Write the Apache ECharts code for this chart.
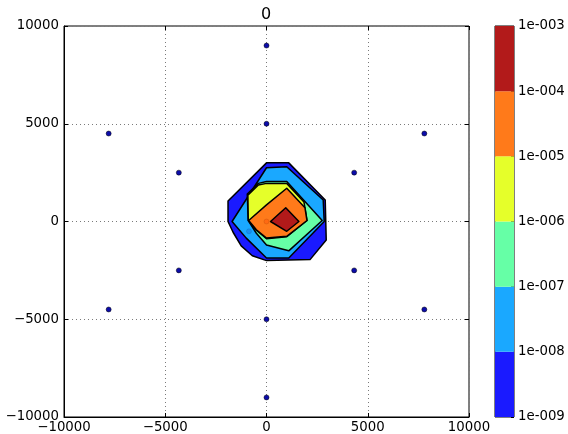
<!DOCTYPE html>
<html><head><meta charset="utf-8">
<script src="https://cdn.jsdelivr.net/npm/echarts@6/dist/echarts.min.js"></script>
<style>html,body{margin:0;padding:0;background:#fff}#c{width:568px;height:434px}</style>
</head><body><div id="c"></div>
<script>
const chartTitle = '0';
const axisMin = -10000, axisMax = 10000, axisStep = 5000;
const levelExponents = [-9, -8, -7, -6, -5, -4, -3];
const levelLabels = ['1e-009', '1e-008', '1e-007', '1e-006', '1e-005', '1e-004', '1e-003'];
const levelColors = ['#1a1aff', '#1aa8ff', '#66ffa6', '#e5ff2a', '#ff7a1a', '#b21a1a'];

// filled contour regions (data units), value >= level
const region1e9 = [[-1900,1050],[0,3000],[1100,3000],[2900,1100],[2950,-950],[2150,-1950],[0,-2000],[-700,-1750],[-1250,-1250],[-1650,-550],[-1900,0]];
const region1e8 = [[-1700,0],[0,2750],[1000,2800],[2800,1100],[2850,0],[1100,-1870],[0,-1870],[-1000,-850]];
const region1e7 = [[-900,50],[-950,1400],[-400,1950],[0,2050],[1000,2050],[2750,50],[1100,-1500],[0,-1200],[-500,-600]];
const region1e6 = [[-900,50],[-920,1350],[-400,1870],[0,1950],[1000,1950],[1850,1000],[2000,50],[1000,-780],[0,-880],[-500,-450]];
const region1e5 = [[-880,50],[0,850],[1000,1700],[1900,700],[2000,50],[1000,-760],[0,-850],[-500,-420]];
const region1e4 = [[200,0],[950,700],[1600,0],[1000,-500]];
const regions = [region1e9, region1e8, region1e7, region1e6, region1e5, region1e4];

// sensor points
const stationX = [0, 0, -7794, 7794, -7794, 7794, -4330, 4330, -4330, 4330, 0, 0];
const stationY = [9000, 5000, 4500, 4500, -4500, -4500, 2500, 2500, -2500, -2500, -5000, -9000];
const innerX = [0, -866];
const innerY = [0, -500];
const innerColors = ['#ff6a12', '#1890f0'];

const font = 'DejaVu Sans';
const fmt = v => String(v).replace('-', '\u2212');

const chart = echarts.init(document.getElementById('c'), null, {renderer: 'canvas'});
chart.setOption({
  animation: false,
  backgroundColor: '#fff',
  title: {text: chartTitle, left: 256, top: 2, textStyle: {fontFamily: font, fontSize: 16, fontWeight: 'normal', color: '#000'}},
  grid: [
    {left: 64, right: 99, top: 26, bottom: 17, show: true, borderColor: '#000', borderWidth: 1, backgroundColor: 'transparent'},
    {left: 495, width: 19, top: 26, bottom: 17, show: true, borderColor: '#000', borderWidth: 1, backgroundColor: 'transparent'}
  ],
  xAxis: [
    {type: 'value', gridIndex: 0, min: axisMin, max: axisMax, interval: axisStep,
     axisLine: {show: true, onZero: false, lineStyle: {color: '#000'}},
     axisTick: {show: true, inside: true, length: 4, lineStyle: {color: '#000'}},
     axisLabel: {margin: 4, fontFamily: font, fontSize: 13.3, color: '#000', formatter: fmt},
     splitLine: {show: true, lineStyle: {color: '#7a7a7a', type: [1, 3], width: 1}}},
    {type: 'value', gridIndex: 0, position: 'top', min: axisMin, max: axisMax, interval: axisStep,
     axisLine: {show: false, onZero: false}, axisTick: {show: true, inside: true, length: 4, lineStyle: {color: '#000'}},
     axisLabel: {show: false}, splitLine: {show: false}},
    {type: 'value', gridIndex: 1, min: 0, max: 1, show: false}
  ],
  yAxis: [
    {type: 'value', gridIndex: 0, min: axisMin, max: axisMax, interval: axisStep,
     axisLine: {show: true, onZero: false, lineStyle: {color: '#000'}},
     axisTick: {show: true, inside: true, length: 4, lineStyle: {color: '#000'}},
     axisLabel: {margin: 5, fontFamily: font, fontSize: 13.3, color: '#000', formatter: fmt},
     splitLine: {show: true, lineStyle: {color: '#7a7a7a', type: [1, 3], width: 1}}},
    {type: 'value', gridIndex: 0, position: 'right', min: axisMin, max: axisMax, interval: axisStep,
     axisLine: {show: false, onZero: false}, axisTick: {show: true, inside: true, length: 4, lineStyle: {color: '#000'}},
     axisLabel: {show: false}, splitLine: {show: false}},
    {type: 'value', gridIndex: 1, position: 'right', min: -9, max: -3, interval: 1,
     axisLine: {show: false, onZero: false},
     axisTick: {show: true, inside: true, length: 3, lineStyle: {color: '#000'}},
     axisLabel: {margin: 4, fontFamily: font, fontSize: 13.3, color: '#000',
       formatter: v => levelLabels[levelExponents.indexOf(Math.round(v))]},
     splitLine: {show: false}}
  ],
  series: [
    {type: 'custom', xAxisIndex: 0, yAxisIndex: 0, z: 2,
     data: regions.map((r, i) => [0, 0, i]),
     renderItem: (params, api) => {
       const i = api.value(2);
       const pts = regions[i].map(p => api.coord(p));
       return {type: 'polygon', shape: {points: pts},
         style: {fill: levelColors[i], stroke: '#000', lineWidth: 1.5, lineJoin: 'round'}};
     }},
    {type: 'scatter', xAxisIndex: 0, yAxisIndex: 0, z: 5, symbolSize: 5,
     itemStyle: {color: '#0c0caa', opacity: 1, borderColor: '#000', borderWidth: 0.5},
     data: stationX.map((x, i) => [x, stationY[i]])},
    {type: 'scatter', xAxisIndex: 0, yAxisIndex: 0, z: 5, symbolSize: 5,
     data: innerX.map((x, i) => ({value: [x, innerY[i]], itemStyle: {color: innerColors[i], opacity: 1, borderColor: 'rgba(0,0,0,0.2)', borderWidth: 0.5}}))},
    {type: 'custom', xAxisIndex: 2, yAxisIndex: 2, z: 2,
     data: levelColors.map((c, i) => [0, levelExponents[i], levelExponents[i + 1], i]),
     renderItem: (params, api) => {
       const a = api.coord([0, api.value(2)]);
       const b = api.coord([1, api.value(1)]);
       return {type: 'rect', shape: {x: a[0], y: a[1], width: b[0] - a[0], height: b[1] - a[1]},
         style: {fill: levelColors[api.value(3)]}};
     }}
  ]
});
</script></body></html>
